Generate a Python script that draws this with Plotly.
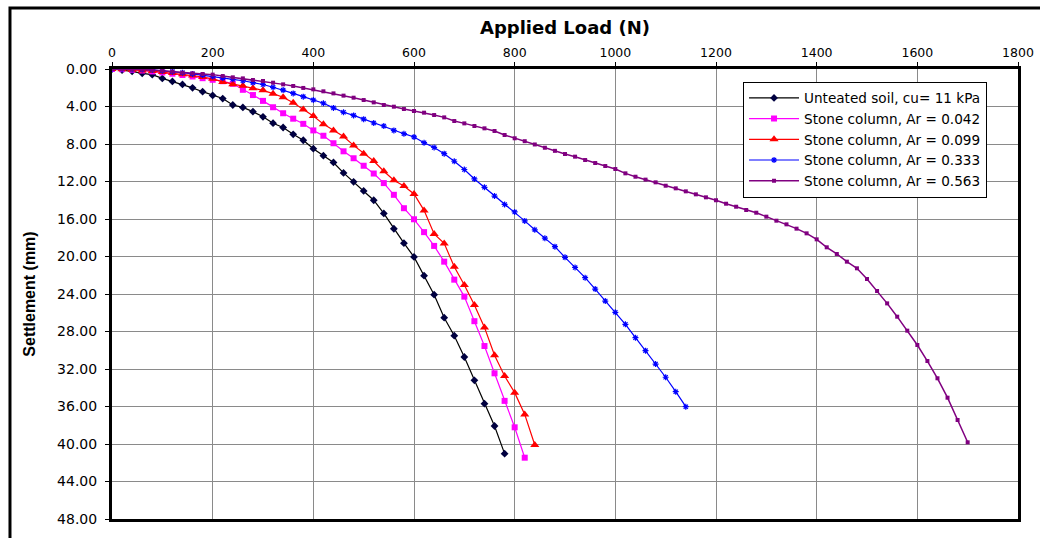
import plotly.graph_objects as go

# ---------------- data ----------------
load_untreated = [i * 20 for i in range(40)]          # 0 .. 780 N
settle_untreated = [0.00, 0.11, 0.25, 0.46, 0.60, 1.00, 1.33, 1.65, 2.01, 2.42,
                    2.82, 3.15, 3.84, 4.10, 4.55, 5.10, 5.78, 6.24, 6.97, 7.60,
                    8.50, 9.24, 9.97, 11.08, 12.03, 13.00, 14.00, 15.40, 17.04, 18.58,
                    20.04, 22.05, 24.07, 26.53, 28.45, 30.72, 33.21, 35.70, 38.08, 41.03]

load_ar042 = [i * 20 for i in range(42)]              # 0 .. 820 N
settle_ar042 = [0.00, 0.02, 0.08, 0.16, 0.26, 0.37, 0.50, 0.64, 0.80, 0.98,
                1.15, 1.30, 1.58, 2.22, 2.78, 3.40, 4.08, 4.72, 5.30, 5.85,
                6.55, 7.12, 7.92, 8.78, 9.52, 10.32, 11.15, 12.17, 13.42, 14.85,
                16.03, 17.40, 18.87, 20.55, 22.47, 24.28, 26.90, 29.55, 32.46, 35.40,
                38.22, 41.46]

load_ar099 = [i * 20 for i in range(43)]              # 0 .. 840 N
settle_ar099 = [0.00, 0.03, 0.08, 0.15, 0.22, 0.32, 0.42, 0.55, 0.70, 0.85,
                1.05, 1.38, 1.62, 1.78, 2.05, 2.28, 2.63, 3.02, 3.59, 4.33,
                5.01, 5.88, 6.55, 7.20, 8.15, 9.03, 9.82, 10.90, 11.86, 12.48,
                13.33, 15.08, 17.60, 18.60, 21.10, 23.04, 25.17, 27.56, 30.54, 32.75,
                34.52, 36.84, 40.10]

load_ar333 = [i * 20 for i in range(58)]              # 0 .. 1140 N
settle_ar333 = [0.00, 0.00, 0.02, 0.05, 0.10, 0.18, 0.28, 0.40, 0.52, 0.65,
                0.80, 0.95, 1.10, 1.25, 1.45, 1.65, 1.95, 2.25, 2.60, 2.95,
                3.30, 3.65, 4.15, 4.62, 4.95, 5.35, 5.76, 6.08, 6.55, 6.90,
                7.25, 7.86, 8.37, 9.03, 9.84, 10.72, 11.73, 12.62, 13.55, 14.45,
                15.25, 16.20, 17.15, 18.05, 18.95, 20.09, 21.17, 22.26, 23.47, 24.75,
                25.95, 27.23, 28.66, 30.04, 31.47, 32.88, 34.42, 36.02]

load_ar563 = [i * 20 for i in range(86)]              # 0 .. 1700 N
settle_ar563 = [0.00, 0.00, 0.00, 0.04, 0.11, 0.18, 0.28, 0.39, 0.46, 0.53,
                0.60, 0.75, 0.89, 1.00, 1.17, 1.28, 1.46, 1.64, 1.81, 2.02,
                2.17, 2.38, 2.60, 2.84, 3.06, 3.31, 3.56, 3.84, 4.02, 4.27,
                4.48, 4.66, 4.91, 5.16, 5.55, 5.80, 6.08, 6.33, 6.61, 7.04,
                7.39, 7.70, 8.05, 8.40, 8.73, 9.07, 9.35, 9.71, 10.03, 10.35,
                10.67, 11.13, 11.49, 11.80, 12.09, 12.45, 12.73, 13.05, 13.37, 13.69,
                14.00, 14.37, 14.69, 15.04, 15.33, 15.75, 16.18, 16.57, 17.03, 17.53,
                18.17, 19.02, 19.73, 20.55, 21.26, 22.40, 23.68, 25.00, 26.42, 27.91,
                29.44, 31.15, 32.99, 35.06, 37.44, 39.82]

series_names = ["Unteated soil, cu= 11 kPa",
                "Stone column, Ar = 0.042",
                "Stone column, Ar = 0.099",
                "Stone column, Ar = 0.333",
                "Stone column, Ar = 0.563"]

x_tick_vals = [0, 200, 400, 600, 800, 1000, 1200, 1400, 1600, 1800]
y_tick_vals = [0, 4, 8, 12, 16, 20, 24, 28, 32, 36, 40, 44, 48]

WIDE = "'DejaVu Sans', Verdana, sans-serif"
ARIAL = "Arial, 'Liberation Sans', sans-serif"

fig = go.Figure()

styles = [
    dict(color="#000000", mcolor="#000040", symbol="diamond", size=6, lw=1.2),
    dict(color="#FF00FF", mcolor="#FF00FF", symbol="square", size=6, lw=1.2),
    dict(color="#FF0000", mcolor="#FF0000", symbol="triangle-up", size=8, lw=1.2),
    dict(color="#0000FF", mcolor="#0000FF", symbol="asterisk-open", size=5, lw=1.2),
    dict(color="#800080", mcolor="#800080", symbol="square", size=4, lw=1.5),
]
datasets = [(load_untreated, settle_untreated), (load_ar042, settle_ar042),
            (load_ar099, settle_ar099), (load_ar333, settle_ar333),
            (load_ar563, settle_ar563)]

for (xs, ys), name, st in zip(datasets, series_names, styles):
    marker = dict(symbol=st["symbol"], size=st["size"], color=st["mcolor"])
    if st["symbol"] == "asterisk-open":
        marker["line"] = dict(color=st["mcolor"], width=1.2)
    fig.add_trace(go.Scatter(
        x=xs, y=ys, name=name, mode="lines+markers",
        line=dict(color=st["color"], width=st["lw"]),
        marker=marker,
    ))

axis_common = dict(
    showline=True, linecolor="black", linewidth=3, mirror=True,
    showgrid=True, gridcolor="#8a8a8a", gridwidth=1,
    ticks="outside", ticklen=4, tickcolor="black",
    zeroline=False, automargin=False,
)

fig.update_xaxes(
    **axis_common,
    side="top", range=[0, 1800], tickvals=x_tick_vals,
    tickfont=dict(family=WIDE, size=12.5, color="black"),
    title=dict(text="<b>Applied Load (N)</b>", font=dict(family=WIDE, size=18, color="black"),
               standoff=6),
)
fig.update_yaxes(
    **axis_common,
    autorange=False, range=[48, 0], tickvals=y_tick_vals, tickformat=".2f",
    tickfont=dict(family=WIDE, size=14, color="black"),
    ticklabelstandoff=5,
    title=dict(text="<b>Settlement (mm)</b>", font=dict(family=ARIAL, size=16, color="black"),
               standoff=18),
)

fig.update_layout(
    width=1040, height=538,
    margin=dict(l=112, r=22, t=69, b=19),
    plot_bgcolor="white", paper_bgcolor="white",
    font=dict(family=WIDE, color="black"),
    showlegend=True,
    legend=dict(
        x=0.6965, y=0.972, xanchor="left", yanchor="top",
        bgcolor="white", bordercolor="black", borderwidth=1,
        font=dict(family=WIDE, size=13.6, color="black"),
        tracegroupgap=0, itemwidth=50,
    ),
    shapes=[dict(type="rect", xref="paper", yref="paper",
                 x0=-0.1126, x1=1.04, y0=-0.08, y1=1.1356,
                 line=dict(color="black", width=3), layer="below")],
)

fig.write_html("out.html",
               config={"displayModeBar": False},
               post_script="document.body.style.margin='0';document.body.style.padding='0';")
